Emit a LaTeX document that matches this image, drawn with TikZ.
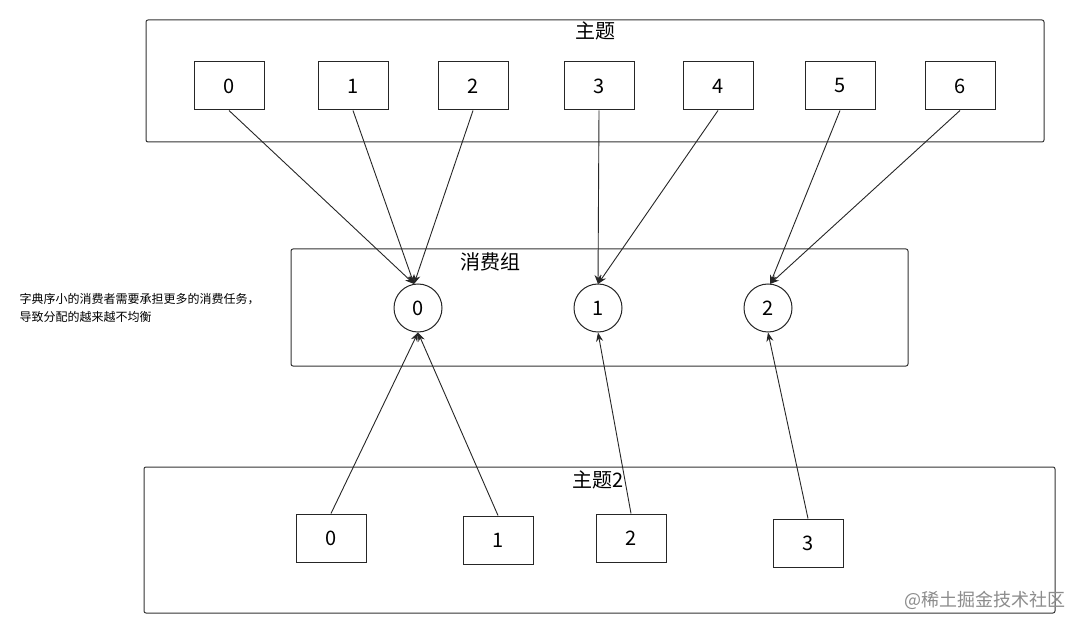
\documentclass[tikz,border=0pt]{standalone}
\usepackage{fontspec}
\setmainfont{Noto Sans CJK SC}
\usetikzlibrary{arrows.meta}
\begin{document}
\begin{tikzpicture}[x=1pt,y=-1pt,
  frame/.style={draw=black!80,rounded corners=2pt,line width=1pt},
  part/.style={draw=black!85,line width=1pt,minimum width=70pt,minimum height=48pt,font=\fontsize{20}{20}\selectfont},
  cons/.style={draw=black!85,line width=1pt,circle,minimum size=48pt,inner sep=0pt,font=\fontsize{20}{20}\selectfont},
  ttl/.style={font=\fontsize{20}{20}\selectfont},
  arr/.style={-{Stealth[length=9pt,width=7pt]},line width=0.9pt,black!85}]
\useasboundingbox (0,0) rectangle (1088,631);
\fill[white] (0,0) rectangle (1088,631);
\draw[frame] (146,20) rectangle (1044,142);
\node[ttl] (t1) at (595,31) {主题};
\foreach \i/\x in {0/229,1/353,2/473,3/599,4/718,5/840,6/960}
  \node[part] (p\i) at (\x,86) {\i};
\draw[frame] (291,249) rectangle (908,366);
\node[ttl] (g) at (490,262) {消费组};
\node[cons] (c0) at (418,308) {0};
\node[cons] (c1) at (598,308) {1};
\node[cons] (c2) at (768,308) {2};
\node[anchor=west,align=left,font=\fontsize{12}{18}\selectfont] (note) at (16,308) {字典序小的消费者需要承担更多的消费任务，\\导致分配的越来越不均衡};
\draw[frame] (144,467) rectangle (1055,613);
\node[ttl] (t2) at (598,480) {主题2};
\node[part] (q0) at (331,538) {0};
\node[part] (q1) at (498,540) {1};
\node[part] (q2) at (631,538) {2};
\node[part] (q3) at (808,543) {3};
\coordinate (a0) at (414,284);
\coordinate (a1) at (598,284);
\coordinate (a2) at (770,284);
\draw[arr] (p0.south) -- (a0);
\draw[arr] (p1.south) -- (a0);
\draw[arr] (p2.south) -- (a0);
\draw[arr] (p3.south) -- (a1);
\draw[arr] (p4.south) -- (a1);
\draw[arr] (p5.south) -- (a2);
\draw[arr] (p6.south) -- (a2);
\draw[arr] (q0.north) -- (c0.south);
\draw[arr] (q1.north) -- (c0.south);
\draw[arr] (q2.north) -- (c1.south);
\draw[arr] (q3.north) -- (c2.south);
\node[text=black!45,font=\fontsize{18}{18}\selectfont] (wm) at (985,600) {@稀土掘金技术社区};
\end{tikzpicture}
\end{document}
